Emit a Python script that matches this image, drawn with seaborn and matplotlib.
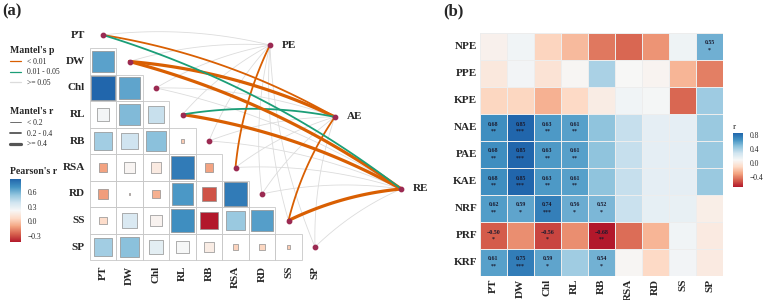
import numpy as np
import pandas as pd
import seaborn as sns
import matplotlib.pyplot as plt
from matplotlib.lines import Line2D
from matplotlib.patches import Rectangle
from matplotlib.colors import Normalize, LinearSegmentedColormap
from matplotlib.cm import ScalarMappable

sns.set_style("white")
plt.rcParams['font.family'] = ['Liberation Serif', 'DejaVu Serif']

# ---- panel (a) data ----
variables = ["PT", "DW", "Chl", "RL", "RB", "RSA", "RD", "SS", "SP"]

# Pearson's r, lower triangle row by row (row i holds columns 0..i-1)
pearson_lower = [
    [],
    [0.65],
    [0.86, 0.64],
    [0.24, 0.57, 0.40],
    [0.50, 0.38, 0.55, 0.013],
    [-0.10, 0.20, 0.15, 0.78, -0.10],
    [-0.12, 0.005, -0.07, 0.68, -0.29, 0.78],
    [0.07, 0.34, 0.19, 0.72, -0.42, 0.52, 0.66],
    [0.50, 0.55, 0.30, 0.22, 0.16, 0.04, 0.05, 0.015],
]

mantel_targets = ["PE", "AE", "RE"]
mantel_r_pe = [0.12, 0.10, 0.08, 0.10, 0.12, 0.30, 0.10, 0.14, 0.08]
mantel_p_pe = [0.21, 0.35, 0.52, 0.40, 0.18, 0.006, 0.33, 0.12, 0.61]
mantel_r_ae = [0.30, 0.48, 0.15, 0.32, 0.10, 0.12, 0.10, 0.34, 0.09]
mantel_p_ae = [0.004, 0.001, 0.09, 0.023, 0.45, 0.30, 0.38, 0.003, 0.55]
mantel_r_re = [0.32, 0.50, 0.14, 0.46, 0.11, 0.13, 0.12, 0.47, 0.10]
mantel_p_re = [0.031, 0.001, 0.11, 0.002, 0.42, 0.27, 0.36, 0.001, 0.48]

# ---- panel (b) data ----
heat_rows = ["NPE", "PPE", "KPE", "NAE", "PAE", "KAE", "NRF", "PRF", "KRF"]
r_npe = [0.04, 0.12, -0.13, -0.22, -0.42, -0.47, -0.34, 0.13, 0.55]
r_ppe = [-0.02, 0.11, -0.05, 0.07, 0.39, 0.08, 0.06, -0.24, -0.40]
r_kpe = [-0.12, -0.12, -0.25, -0.11, 0.01, 0.12, 0.10, -0.47, 0.43]
r_nae = [0.68, 0.85, 0.63, 0.61, 0.47, 0.31, 0.18, 0.18, 0.44]
r_pae = [0.68, 0.85, 0.63, 0.61, 0.47, 0.31, 0.18, 0.18, 0.44]
r_kae = [0.68, 0.85, 0.63, 0.61, 0.47, 0.31, 0.18, 0.18, 0.44]
r_nrf = [0.62, 0.59, 0.74, 0.56, 0.52, 0.30, 0.17, 0.16, 0.02]
r_prf = [-0.50, -0.36, -0.56, -0.36, -0.68, -0.45, -0.24, 0.12, 0.00]
r_krf = [0.61, 0.75, 0.59, 0.42, 0.54, 0.07, -0.11, 0.11, 0.00]

s_npe = ["", "", "", "", "", "", "", "", "*"]
s_ppe = ["", "", "", "", "", "", "", "", ""]
s_kpe = ["", "", "", "", "", "", "", "", ""]
s_nae = ["**", "***", "**", "**", "", "", "", "", ""]
s_pae = ["**", "***", "**", "**", "", "", "", "", ""]
s_kae = ["**", "***", "**", "**", "", "", "", "", ""]
s_nrf = ["**", "*", "***", "*", "*", "", "", "", ""]
s_prf = ["*", "", "*", "", "**", "", "", "", ""]
s_krf = ["**", "***", "*", "", "*", "", "", "", ""]

# layout of the mantel nodes, in grid units
target_pos = {"PE": (6.30, 0.38), "AE": (8.75, 3.09), "RE": (11.25, 5.81)}

p_colors = {"lt": "#D95F02", "mid": "#1B9E77", "ns": "#DCDCDC"}
node_color = "#9B2A52"
label_font = dict(fontweight="bold", fontsize=8)

# brewer RdBu (9 classes)
rdbu = LinearSegmentedColormap.from_list(
    "rdbu9", ["#B2182B", "#D6604D", "#F4A582", "#FDDBC7", "#F7F7F7",
              "#D1E5F0", "#92C5DE", "#4393C3", "#2166AC"])

fig = plt.figure(figsize=(7.63, 3.0), dpi=100)

# ---------------- panel (a) ----------------
cell = 26.5
ax = fig.add_axes([70 / 763, 0, 370 / 763, 1])
n = len(variables)

rows = []
for i, vals in enumerate(pearson_lower):
    for j, r in enumerate(vals):
        rows.append({"x": j, "y": i, "r": r, "absr": abs(r)})
pear = pd.DataFrame(rows)
pear_norm = (pear["r"].min(), pear["r"].max())

for _, row in pear.iterrows():
    ax.add_patch(Rectangle((row["x"] - 0.5, row["y"] - 0.5), 1, 1, fill=False,
                           ec="#C8C8C8", lw=0.6, zorder=1))

side_pt = cell * 0.72
sns.scatterplot(data=pear, x="x", y="y", hue="r", size="absr", marker="s",
                palette=rdbu, hue_norm=pear_norm, sizes=(0, side_pt ** 2),
                size_norm=(0, 1), edgecolor="#8f8f8f", linewidth=0.5,
                legend=False, ax=ax, zorder=2)


def width_of(r):
    if r < 0.2:
        return 0.6
    if r < 0.4:
        return 1.3
    return 2.3


def color_of(p):
    if p < 0.01:
        return p_colors["lt"]
    if p < 0.05:
        return p_colors["mid"]
    return p_colors["ns"]


mantel = pd.DataFrame({
    "var": variables * 3,
    "idx": list(range(n)) * 3,
    "target": np.repeat(mantel_targets, n),
    "r": mantel_r_pe + mantel_r_ae + mantel_r_re,
    "p": mantel_p_pe + mantel_p_ae + mantel_p_re,
})
mantel["sig"] = mantel["p"] < 0.05
mantel = mantel.sort_values("sig")

t = np.linspace(0, 1, 60)
bend = 0.09
for _, m in mantel.iterrows():
    x0, y0 = m["idx"], -m["idx"]
    x1, y1 = target_pos[m["target"]][0], -target_pos[m["target"]][1]
    dx, dy = x1 - x0, y1 - y0
    cx = (x0 + x1) / 2 - bend * dy
    cy = (y0 + y1) / 2 + bend * dx
    bx = (1 - t) ** 2 * x0 + 2 * (1 - t) * t * cx + t ** 2 * x1
    by = (1 - t) ** 2 * y0 + 2 * (1 - t) * t * cy + t ** 2 * y1
    ax.plot(bx, -by, color=color_of(m["p"]), lw=width_of(m["r"]),
            solid_capstyle="round", zorder=3 if m["sig"] else 1.5)

ax.scatter(range(n), range(n), s=10, color=node_color, zorder=4)
tx = [target_pos[k][0] for k in mantel_targets]
ty = [target_pos[k][1] for k in mantel_targets]
ax.scatter(tx, ty, s=10, color=node_color, zorder=4)
for k in mantel_targets:
    ax.text(target_pos[k][0] + 0.45, target_pos[k][1], k, ha="left", va="center", **label_font)

for i, name in enumerate(variables):
    ax.text(-0.68, i, name, ha="right", va="center", **label_font)
    ax.text(i, 8.7, name, ha="center", va="top", rotation=90, **label_font)

ax.set_xlim((70 - 103) / cell, (440 - 103) / cell)
ax.set_ylim((300 - 35) / cell, (0 - 35) / cell)
ax.axis("off")

# legends for panel (a)
p_handles = [Line2D([], [], color=p_colors[k], lw=0.9) for k in ["lt", "mid", "ns"]]
leg1 = fig.legend(p_handles, ["< 0.01", "0.01 - 0.05", ">= 0.05"], title="Mantel's p",
                  loc="upper left", bbox_to_anchor=(0.004, 0.87), frameon=False,
                  fontsize=5.5, handlelength=1.4, labelspacing=0.35, handletextpad=0.8,
                  title_fontproperties={"weight": "bold", "size": 7})
leg1._legend_box.align = "left"
r_handles = [Line2D([], [], color="#555555", lw=w) for w in [0.6, 1.3, 2.3]]
leg2 = fig.legend(r_handles, ["< 0.2", "0.2 - 0.4", ">= 0.4"], title="Mantel's r",
                  loc="upper left", bbox_to_anchor=(0.004, 0.665), frameon=False,
                  fontsize=5.5, handlelength=1.4, labelspacing=0.35, handletextpad=0.8,
                  title_fontproperties={"weight": "bold", "size": 7})
leg2._legend_box.align = "left"

fig.text(10 / 763, 1 - 172 / 300, "Pearson's r", fontsize=7, fontweight="bold", va="center")
cax_a = fig.add_axes([10 / 763, 58 / 300, 11 / 763, 63 / 300])
cb_a = fig.colorbar(ScalarMappable(norm=Normalize(*pear_norm), cmap=rdbu), cax=cax_a)
cb_a.set_ticks([-0.3, 0.0, 0.3, 0.6])
cb_a.ax.tick_params(labelsize=5.5, length=2, color="white", pad=3)
cb_a.outline.set_visible(False)

# ---------------- panel (b) ----------------
heat = pd.DataFrame([r_npe, r_ppe, r_kpe, r_nae, r_pae, r_kae, r_nrf, r_prf, r_krf],
                    index=heat_rows, columns=variables)
stars = [s_npe, s_ppe, s_kpe, s_nae, s_pae, s_kae, s_nrf, s_prf, s_krf]
annot = np.array([[f"{v:.2f}\n{s}".replace("-", "\u2212") if s else ""
                   for v, s in zip(row, srow)]
                  for row, srow in zip(heat.values, stars)])

axb = fig.add_axes([480 / 763, 24 / 300, 243 / 763, 243 / 300])
caxb = fig.add_axes([733 / 763, 113 / 300, 10 / 763, 54 / 300])
sns.heatmap(heat, cmap=rdbu, annot=annot, fmt="", ax=axb, cbar_ax=caxb,
            linewidths=0.4, linecolor="#EDEDED",
            annot_kws={"fontsize": 4.2, "color": "#1a1a2e", "fontweight": "bold",
                       "linespacing": 1.5})
axb.tick_params(length=0, pad=2)
axb.set_xticklabels(variables, rotation=90, **label_font)
axb.set_yticklabels(heat_rows, rotation=0, **label_font)
axb.set_xlabel("")
axb.set_ylabel("")
caxb.set_yticks([-0.4, 0.0, 0.4, 0.8])
caxb.tick_params(labelsize=5.5, length=2, color="white", pad=3)
caxb.set_title("r", fontsize=6.5, loc="left", pad=3)

fig.text(0.003, 0.99, "(a)", fontsize=12, fontweight="bold", va="top")
fig.text(443 / 763, 0.99, "(b)", fontsize=12, fontweight="bold", va="top")

fig.savefig("out.png", dpi=100, facecolor="white")
